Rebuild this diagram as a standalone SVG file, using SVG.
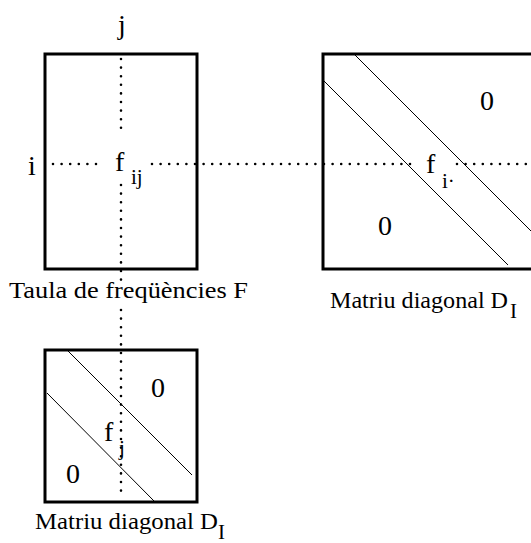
<svg xmlns="http://www.w3.org/2000/svg" width="531" height="543" viewBox="0 0 531 543" font-family="'Liberation Serif', 'DejaVu Serif', serif">
<style>
.box{fill:none;stroke:#000;stroke-width:3}
.diag{fill:none;stroke:#000;stroke-width:1}
.dot{fill:none;stroke:#000;stroke-width:2.6;stroke-linecap:round;stroke-dasharray:0 8.6}
text{font-family:'Liberation Serif','DejaVu Serif',serif;fill:#000}
.lbl{font-size:24px}
.let{font-size:28px}
.sub{font-size:21px}
.zero{font-size:28px;text-anchor:middle}
</style>
<rect width="531" height="543" fill="#fff"/>
<g id="connectors">
<line class="dot" x1="121" y1="59" x2="121" y2="130"/>
<line class="dot" x1="121" y1="185" x2="121" y2="285"/>
<line class="dot" x1="121" y1="310" x2="121" y2="499"/>
<line class="dot" x1="53" y1="164" x2="98" y2="164"/>
<line class="dot" x1="152" y1="164" x2="411" y2="164"/>
<line class="dot" x1="457" y1="164" x2="531" y2="164"/>
</g>
<g id="table-F">
<rect class="box" x="45" y="54" width="152" height="215"/>
<text class="let" x="118" y="34">j</text>
<text class="let" x="28" y="175">i</text>
<text class="let" x="115" y="171">f</text>
<text class="sub" x="131" y="184">ij</text>
<text class="lbl" x="9" y="298" textLength="239" lengthAdjust="spacingAndGlyphs">Taula de freqüències F</text>
</g>
<g id="diag-DI">
<rect class="box" x="323" y="54" width="215" height="215"/>
<line class="diag" x1="354" y1="54" x2="538" y2="238"/>
<line class="diag" x1="323" y1="80" x2="508" y2="265"/>
<text class="zero" x="487" y="110">0</text>
<text class="zero" x="385" y="235">0</text>
<text class="let" x="426" y="173">f</text>
<text class="sub" x="442" y="188">i·</text>
<text class="lbl" x="330" y="308" textLength="178" lengthAdjust="spacingAndGlyphs">Matriu diagonal D</text>
<text class="sub" x="510" y="318">I</text>
</g>
<g id="diag-DJ">
<rect class="box" x="45" y="350" width="152" height="152"/>
<line class="diag" x1="67" y1="350" x2="192" y2="475"/>
<line class="diag" x1="47" y1="393" x2="155" y2="502"/>
<text class="zero" x="158" y="397">0</text>
<text class="zero" x="73" y="483">0</text>
<text class="let" x="104" y="441">f</text>
<text class="sub" x="119" y="455">j</text>
<text class="lbl" x="35" y="529" textLength="183" lengthAdjust="spacingAndGlyphs">Matriu diagonal D</text>
<text class="sub" x="218" y="539">I</text>
</g>
</svg>
